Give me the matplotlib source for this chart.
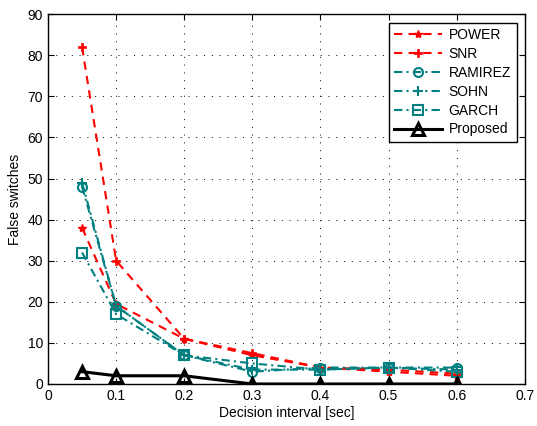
import matplotlib
matplotlib.use('Agg')
import matplotlib.pyplot as plt
import numpy as np

plt.rcParams['font.family'] = ['Liberation Sans', 'DejaVu Sans']

# decision intervals [sec]
intervalos = [0.05, 0.1, 0.2, 0.3, 0.4, 0.5, 0.6]

# false switches per method
power = [38, 19.5, 11, 7, 4, 3, 2]
snr = [82, 30, 11, 7.5, 4, 3.5, 2.5]
ramirez = [48, 19, 7, 3, 4, 4, 4]
sohn = [49, 19, 7, 3.5, 3.5, 4, 3.5]
garch = [32, 17, 7, 5, 3.5, 4, 3]
proposto = [3, 2, 2, 0, 0, 0, 0]

teal = '#008080'
tracejado = (0, (4, 3))
traco_ponto = (0, (4, 2, 1, 2))

fig = plt.figure(figsize=(5.37, 4.26), dpi=100)
ax = fig.add_axes([0.0894, 0.0986, 0.888, 0.868])

ax.plot(intervalos, power, ls=tracejado, color='red', lw=1.5, marker='*',
        ms=6, mew=1, label='POWER')
ax.plot(intervalos, snr, ls=tracejado, color='red', lw=1.5, marker='P',
        ms=6, mew=0.5, label='SNR')
ax.plot(intervalos, ramirez, ls=traco_ponto, color=teal, lw=1.5, marker='o',
        ms=6.5, mfc='none', mew=1.5, label='RAMIREZ')
ax.plot(intervalos, sohn, ls=traco_ponto, color=teal, lw=1.5, marker='+',
        ms=7, mew=1.5, label='SOHN')
ax.plot(intervalos, garch, ls=traco_ponto, color=teal, lw=1.5, marker='s',
        ms=6.5, mfc='none', mew=1.5, label='GARCH')
ax.plot(intervalos, proposto, '-', color='black', lw=2.2, marker='^', ms=8,
        mfc='none', mew=2.2, label='Proposed')

ax.set_xlim(0, 0.7)
ax.set_ylim(0, 90)
ax.set_xticks(np.arange(0, 0.71, 0.1))
ax.set_xticklabels(['0', '0.1', '0.2', '0.3', '0.4', '0.5', '0.6', '0.7'])
ax.set_yticks(np.arange(0, 91, 10))
ax.grid(True, linestyle=(0, (1, 7)), color='black', lw=0.7)
ax.tick_params(direction='in', top=True, right=True, labelsize=10, length=4)
for s in ax.spines.values():
    s.set_linewidth(1)

ax.set_xlabel('Decision interval [sec]', fontsize=10, labelpad=2)
ax.set_ylabel('False switches', fontsize=10, labelpad=4)

leg = ax.legend(loc='upper right', fontsize=10, fancybox=False,
                framealpha=1, edgecolor='black', handlelength=3.4,
                borderaxespad=0.6, labelspacing=0.35, handletextpad=0.5)
leg.get_frame().set_linewidth(1)

plt.savefig('out.png', dpi=100)
